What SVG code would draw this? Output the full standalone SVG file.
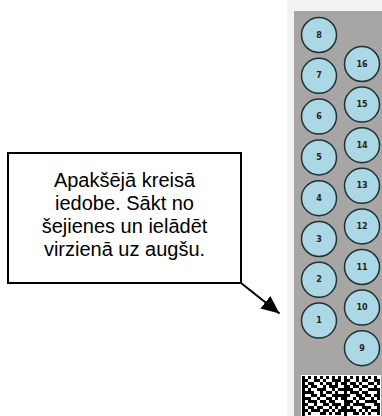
<svg xmlns="http://www.w3.org/2000/svg" width="382" height="416" viewBox="0 0 382 416">
  <style>
    .well { fill: #acd7e4; stroke: #1f3337; stroke-width: 1.5; }
    .num { font-family: "DejaVu Sans", Verdana, sans-serif; font-size: 8px; font-weight: bold; fill: #222; text-anchor: middle; dominant-baseline: central; }
    .note { font-family: "Liberation Sans", Arial, sans-serif; font-size: 20px; fill: #000; text-anchor: middle; }
    .mod { fill: none; stroke: #000; stroke-width: 3; }
  </style>
  <defs>
    <marker id="arrowhead" markerUnits="userSpaceOnUse" markerWidth="19" markerHeight="16" refX="18" refY="8" orient="auto">
      <path d="M0 0 L18 8 L0 16 Z" fill="#000"/>
    </marker>
  </defs>

  <rect width="382" height="416" fill="#fff"/>

  <!-- plate holder -->
  <g id="plate">
    <rect x="287" y="0" width="95" height="416" fill="#f3f3f3"/>
    <rect x="294" y="11" width="88" height="405" fill="#a8a6a5"/>
  </g>

  <!-- wells, left column 1-8 -->
  <g id="well-8"><circle class="well" cx="319" cy="35" r="17.5"/><text class="num" x="319" y="35">8</text></g>
  <g id="well-7"><circle class="well" cx="319" cy="75.8" r="17.5"/><text class="num" x="319" y="75.8">7</text></g>
  <g id="well-6"><circle class="well" cx="319" cy="116.6" r="17.5"/><text class="num" x="319" y="116.6">6</text></g>
  <g id="well-5"><circle class="well" cx="319" cy="157.4" r="17.5"/><text class="num" x="319" y="157.4">5</text></g>
  <g id="well-4"><circle class="well" cx="319" cy="198.2" r="17.5"/><text class="num" x="319" y="198.2">4</text></g>
  <g id="well-3"><circle class="well" cx="319" cy="239" r="17.5"/><text class="num" x="319" y="239">3</text></g>
  <g id="well-2"><circle class="well" cx="319" cy="279.8" r="17.5"/><text class="num" x="319" y="279.8">2</text></g>
  <g id="well-1"><circle class="well" cx="319" cy="320.6" r="17.5"/><text class="num" x="319" y="320.6">1</text></g>

  <!-- wells, right column 9-16 -->
  <g id="well-16"><circle class="well" cx="362" cy="64" r="17.5"/><text class="num" x="362" y="64">16</text></g>
  <g id="well-15"><circle class="well" cx="362" cy="104.6" r="17.5"/><text class="num" x="362" y="104.6">15</text></g>
  <g id="well-14"><circle class="well" cx="362" cy="145.2" r="17.5"/><text class="num" x="362" y="145.2">14</text></g>
  <g id="well-13"><circle class="well" cx="362" cy="185.8" r="17.5"/><text class="num" x="362" y="185.8">13</text></g>
  <g id="well-12"><circle class="well" cx="362" cy="226.4" r="17.5"/><text class="num" x="362" y="226.4">12</text></g>
  <g id="well-11"><circle class="well" cx="362" cy="267" r="17.5"/><text class="num" x="362" y="267">11</text></g>
  <g id="well-10"><circle class="well" cx="362" cy="307.6" r="17.5"/><text class="num" x="362" y="307.6">10</text></g>
  <g id="well-9"><circle class="well" cx="362" cy="348.2" r="17.5"/><text class="num" x="362" y="348.2">9</text></g>

  <!-- 2D barcode label -->
  <g id="barcode">
    <rect x="301" y="375" width="80" height="41" fill="#fff"/>
    <line class="mod" x1="302" y1="377.5" x2="380" y2="377.5" stroke-dasharray="3 3"/>
    <line class="mod" x1="303.5" y1="376" x2="303.5" y2="416"/>
    <line class="mod" x1="345.5" y1="376" x2="345.5" y2="416"/>
    <path class="mod" d="
      M302 380.5h6M314 380.5h6M323 380.5h3M332 380.5h9M344 380.5h6M356 380.5h3M362 380.5h6M374 380.5h6
      M302 383.5h3M308 383.5h6M320 383.5h3M326 383.5h6M335 383.5h3M341 383.5h3M350 383.5h6M359 383.5h3M368 383.5h6M377 383.5h3
      M302 386.5h6M311 386.5h6M323 386.5h3M329 386.5h9M344 386.5h6M353 386.5h6M362 386.5h6M374 386.5h3
      M302 389.5h3M308 389.5h3M317 389.5h9M332 389.5h3M338 389.5h6M347 389.5h6M359 389.5h3M368 389.5h12
      M302 392.5h12M320 392.5h3M326 392.5h6M335 392.5h3M344 392.5h3M350 392.5h9M362 392.5h6M377 392.5h3
      M302 395.5h3M311 395.5h6M320 395.5h6M332 395.5h12M347 395.5h3M356 395.5h6M365 395.5h6M374 395.5h6
      M302 398.5h9M317 398.5h3M326 398.5h6M335 398.5h3M341 398.5h6M353 398.5h3M359 398.5h6M371 398.5h3M377 398.5h3
      M302 401.5h3M308 401.5h9M320 401.5h6M329 401.5h6M344 401.5h9M356 401.5h3M365 401.5h12
      M302 404.5h6M314 404.5h3M323 404.5h6M332 404.5h9M347 404.5h3M353 404.5h12M374 404.5h6
      M302 407.5h3M308 407.5h6M317 407.5h6M329 407.5h3M335 407.5h3M341 407.5h6M350 407.5h3M362 407.5h9M377 407.5h3
      M302 410.5h6M311 410.5h9M323 410.5h6M332 410.5h3M338 410.5h6M347 410.5h9M359 410.5h3M365 410.5h3M371 410.5h9
      M302 413.5h3M308 413.5h3M320 413.5h6M329 413.5h3M335 413.5h6M344 413.5h3M353 413.5h6M362 413.5h3M368 413.5h3M377 413.5h3"/>
  </g>

  <!-- callout -->
  <g id="callout">
    <rect x="8" y="153" width="233" height="130" fill="#fff" stroke="#000" stroke-width="2"/>
    <text class="note" x="124.5" y="187">Apakšējā kreisā</text>
    <text class="note" x="124.5" y="210">iedobe. Sākt no</text>
    <text class="note" x="124.5" y="233">šejienes un ielādēt</text>
    <text class="note" x="124.5" y="256">virzienā uz augšu.</text>
  </g>

  <g id="connectors">
    <line x1="241" y1="283" x2="279.5" y2="313.5" stroke="#000" stroke-width="2" marker-end="url(#arrowhead)"/>
  </g>
</svg>
